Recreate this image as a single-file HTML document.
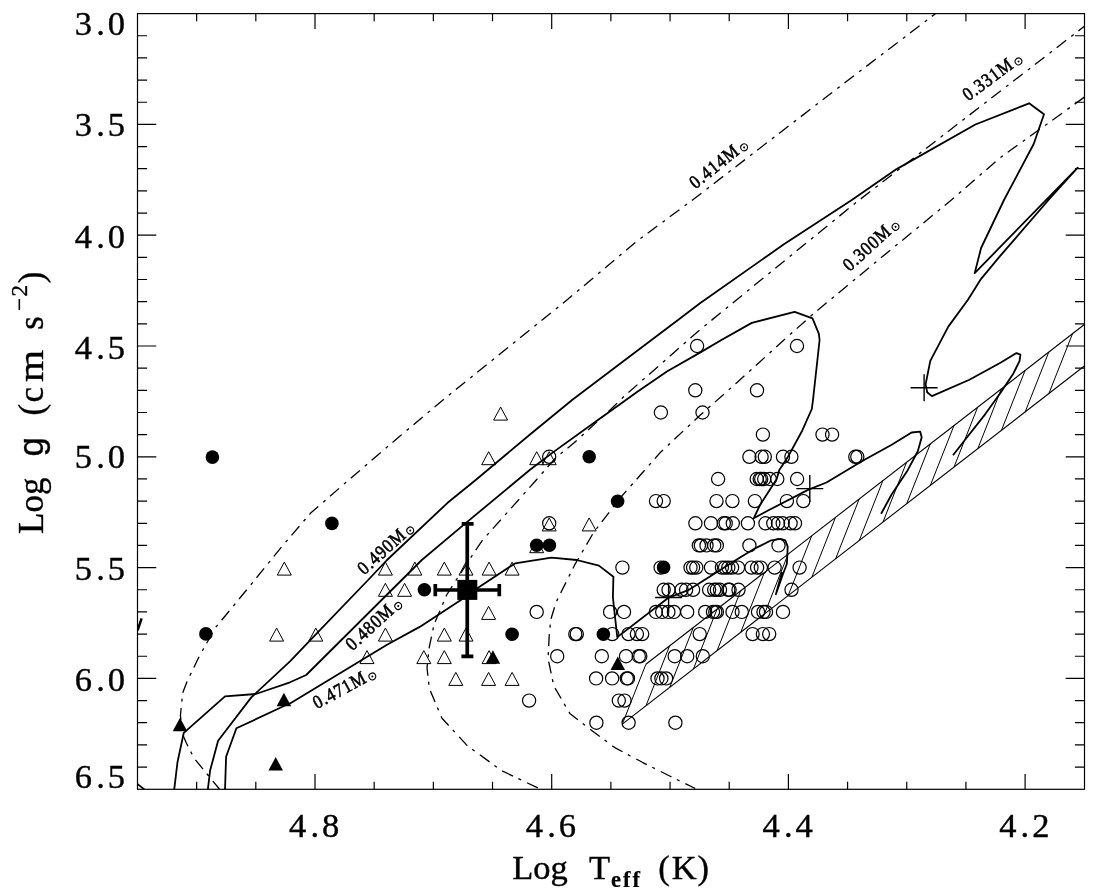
<!DOCTYPE html><html><head><meta charset="utf-8"><style>html,body{margin:0;padding:0;background:#fff;}svg{display:block;will-change:transform;}text{font-family:"Liberation Serif",serif;fill:#000;}</style></head><body>
<svg width="1094" height="896" viewBox="0 0 1094 896">
<rect width="1094" height="896" fill="#fff"/>
<defs><clipPath id="pc"><rect x="137.5" y="13.6" width="947.0" height="775.6999999999999"/></clipPath></defs>
<path d="M196.65,789.3V781.70M196.65,13.6V21.20M255.82,789.3V781.70M255.82,13.6V21.20M315.00,789.3V774.00M315.00,13.6V28.90M374.17,789.3V781.70M374.17,13.6V21.20M433.35,789.3V781.70M433.35,13.6V21.20M492.52,789.3V781.70M492.52,13.6V21.20M551.70,789.3V774.00M551.70,13.6V28.90M610.88,789.3V781.70M610.88,13.6V21.20M670.05,789.3V781.70M670.05,13.6V21.20M729.22,789.3V781.70M729.22,13.6V21.20M788.40,789.3V774.00M788.40,13.6V28.90M847.58,789.3V781.70M847.58,13.6V21.20M906.75,789.3V781.70M906.75,13.6V21.20M965.92,789.3V781.70M965.92,13.6V21.20M1025.10,789.3V774.00M1025.10,13.6V28.90M137.5,35.76H147.10M1084.5,35.76H1074.90M137.5,57.92H147.10M1084.5,57.92H1074.90M137.5,80.08H147.10M1084.5,80.08H1074.90M137.5,102.24H147.10M1084.5,102.24H1074.90M137.5,124.40H156.30M1084.5,124.40H1065.70M137.5,146.56H147.10M1084.5,146.56H1074.90M137.5,168.72H147.10M1084.5,168.72H1074.90M137.5,190.88H147.10M1084.5,190.88H1074.90M137.5,213.04H147.10M1084.5,213.04H1074.90M137.5,235.20H156.30M1084.5,235.20H1065.70M137.5,257.36H147.10M1084.5,257.36H1074.90M137.5,279.52H147.10M1084.5,279.52H1074.90M137.5,301.68H147.10M1084.5,301.68H1074.90M137.5,323.84H147.10M1084.5,323.84H1074.90M137.5,346.00H156.30M1084.5,346.00H1065.70M137.5,368.16H147.10M1084.5,368.16H1074.90M137.5,390.32H147.10M1084.5,390.32H1074.90M137.5,412.48H147.10M1084.5,412.48H1074.90M137.5,434.64H147.10M1084.5,434.64H1074.90M137.5,456.80H156.30M1084.5,456.80H1065.70M137.5,478.96H147.10M1084.5,478.96H1074.90M137.5,501.12H147.10M1084.5,501.12H1074.90M137.5,523.28H147.10M1084.5,523.28H1074.90M137.5,545.44H147.10M1084.5,545.44H1074.90M137.5,567.60H156.30M1084.5,567.60H1065.70M137.5,589.76H147.10M1084.5,589.76H1074.90M137.5,611.92H147.10M1084.5,611.92H1074.90M137.5,634.08H147.10M1084.5,634.08H1074.90M137.5,656.24H147.10M1084.5,656.24H1074.90M137.5,678.40H156.30M1084.5,678.40H1065.70M137.5,700.56H147.10M1084.5,700.56H1074.90M137.5,722.72H147.10M1084.5,722.72H1074.90M137.5,744.88H147.10M1084.5,744.88H1074.90M137.5,767.04H147.10M1084.5,767.04H1074.90" fill="none" stroke="#000" stroke-width="1.2"/>
<rect x="137.5" y="13.6" width="947.0" height="775.6999999999999" fill="none" stroke="#000" stroke-width="1.2"/>
<text x="74.8 96.2 107.8" y="35.2" font-size="34.5" stroke="#000" stroke-width="0.4">3.0</text>
<text x="74.8 96.2 107.8" y="136.3" font-size="34.5" stroke="#000" stroke-width="0.4">3.5</text>
<text x="74.8 96.2 107.8" y="248.0" font-size="34.5" stroke="#000" stroke-width="0.4">4.0</text>
<text x="74.8 96.2 107.8" y="359.0" font-size="34.5" stroke="#000" stroke-width="0.4">4.5</text>
<text x="74.8 96.2 107.8" y="468.4" font-size="34.5" stroke="#000" stroke-width="0.4">5.0</text>
<text x="74.8 96.2 107.8" y="579.6" font-size="34.5" stroke="#000" stroke-width="0.4">5.5</text>
<text x="74.8 96.2 107.8" y="691.2" font-size="34.5" stroke="#000" stroke-width="0.4">6.0</text>
<text x="74.8 96.2 107.8" y="788.0" font-size="34.5" stroke="#000" stroke-width="0.4">6.5</text>
<text x="289.1 310.5 322.1" y="836.8" font-size="34.5" stroke="#000" stroke-width="0.4">4.8</text>
<text x="525.8 547.2 558.8" y="836.8" font-size="34.5" stroke="#000" stroke-width="0.4">4.6</text>
<text x="762.5 783.9 795.5" y="836.8" font-size="34.5" stroke="#000" stroke-width="0.4">4.4</text>
<text x="999.2 1020.6 1032.2" y="836.8" font-size="34.5" stroke="#000" stroke-width="0.4">4.2</text>
<text y="878.5" font-size="34.5" stroke="#000" stroke-width="0.4"><tspan x="512.2">Log</tspan><tspan x="588.9">T</tspan></text>
<text x="611" y="887.2" font-size="22.5" font-weight="bold" letter-spacing="2" stroke="#000" stroke-width="0.2">eff</text>
<text y="878.5" font-size="34.5" stroke="#000" stroke-width="0.4"><tspan x="658.2">(</tspan><tspan x="671.75">K</tspan><tspan x="697.6">)</tspan></text>
<g transform="translate(42.9,533) rotate(-90)"><text x="-1.0" y="0" font-size="35" style='font-family:"Liberation Serif",serif' stroke="#000" stroke-width="0.35">Log</text><text x="76.6" y="0" font-size="35" style='font-family:"Liberation Sans",sans-serif' stroke="#000" stroke-width="0.35">g</text><text x="117.4" y="0" font-size="35" style='font-family:"Liberation Serif",serif' stroke="#000" stroke-width="0.35">(</text><text x="130.4" y="0" font-size="35" style='font-family:"Liberation Serif",serif' stroke="#000" stroke-width="0.35">c</text><text x="127.97" y="0" font-size="35" style='font-family:"Liberation Serif",serif' stroke="#000" stroke-width="0.35" transform="scale(1.18,1)">m</text><text x="203.2" y="0" font-size="35" style='font-family:"Liberation Serif",serif' stroke="#000" stroke-width="0.35">s</text><text x="222" y="-16.1" font-size="23" style='font-family:"Liberation Serif",serif' stroke="#000" stroke-width="0.35">−</text><text x="236.4" y="-16.1" font-size="23" style='font-family:"Liberation Serif",serif' stroke="#000" stroke-width="0.35">2</text><text x="249.7" y="0" font-size="35" style='font-family:"Liberation Serif",serif' stroke="#000" stroke-width="0.35">)</text></g>
<g clip-path="url(#pc)"><path d="M645.9,664.3 L1100.0,312.4" fill="none" stroke="#000" stroke-width="1.1" stroke-linejoin="round" stroke-linecap="butt"/><path d="M622.3,724.1 L1100.0,353.9" fill="none" stroke="#000" stroke-width="1.1" stroke-linejoin="round" stroke-linecap="butt"/><path d="M622.3,724.1l23.6,-59.8M646.0,705.7l23.6,-59.8M669.7,687.4l23.6,-59.8M693.4,669.0l23.6,-59.8M717.1,650.6l23.6,-59.8M740.8,632.2l23.6,-59.8M764.5,613.9l23.6,-59.8M788.2,595.5l23.6,-59.8M811.9,577.1l23.6,-59.8M835.6,558.8l23.6,-59.8M859.3,540.4l23.6,-59.8M883.0,522.0l23.6,-59.8M906.7,503.7l23.6,-59.8M930.4,485.3l23.6,-59.8M954.1,466.9l23.6,-59.8M977.8,448.6l23.6,-59.8M1001.5,430.2l23.6,-59.8M1025.2,411.8l23.6,-59.8M1048.9,393.5l23.6,-59.8" fill="none" stroke="#000" stroke-width="1.0"/><path d="M935.4,13.7 L850.0,78.8 L692.5,200.0 L637.0,241.1 L566.9,300.0 L443.0,400.0 L400.0,436.0 L347.2,481.3 L310.4,513.3 L281.0,547.6 L249.1,586.9 L214.7,628.6 L205.4,645.5 L199.2,656.3 L192.9,669.6 L187.6,680.0 L182.7,692.8 L180.4,715.7 L182.9,735.0 L186.2,742.7 L194.0,758.1 L219.4,789.0" fill="none" stroke="#000" stroke-width="1.3" stroke-linejoin="round" stroke-linecap="butt" stroke-dasharray="12 6 3 6.5" stroke-dashoffset="7.6"/><path d="M1084.4,26.3 L880.0,184.0 L856.3,202.3 L778.1,266.0 L700.0,329.7 L623.6,396.8 L611.3,408.8 L573.8,443.1 L555.3,458.1 L536.3,480.0 L482.7,540.0 L474.1,552.4 L446.6,595.0 L434.0,624.5 L429.3,647.1 L427.0,667.7 L429.3,688.3 L441.8,718.0 L467.0,745.4 L501.3,770.5 L540.1,789.0" fill="none" stroke="#000" stroke-width="1.3" stroke-linejoin="round" stroke-linecap="butt" stroke-dasharray="12 6 3 6.5" stroke-dashoffset="4.5"/><path d="M1084.4,97.1 L1000.0,157.9 L951.4,200.0 L880.0,258.6 L814.3,313.0 L783.9,340.0 L736.8,382.7 L700.6,414.8 L660.5,452.3 L620.3,497.8 L593.5,532.6 L574.8,564.7 L556.1,602.2 L550.7,619.9 L549.2,635.7 L548.1,658.6 L553.8,686.0 L569.8,713.4 L592.7,731.2 L614.8,747.6 L642.3,762.3 L669.7,776.0 L695.3,788.5" fill="none" stroke="#000" stroke-width="1.3" stroke-linejoin="round" stroke-linecap="butt" stroke-dasharray="12 6 3 6.5" stroke-dashoffset="0"/><path d="M207.8,790.0 L210.1,770.5 L218.1,740.8 L251.3,697.4 L290.0,661.3 L310.3,640.2 L368.1,580.0 L387.0,560.0 L447.6,502.8 L475.7,480.0 L530.0,434.5 L572.1,400.0 L620.0,363.8 L678.0,320.0 L700.0,303.2 L783.9,244.3 L851.8,200.0 L896.6,169.1 L975.4,124.5 L1029.1,103.3 L1044.0,114.3 L1033.7,144.0 L1004.0,200.0 L981.1,248.0 L974.7,273.1 L1000.0,247.2 L1077.7,167.7 L1048.5,200.0 L1000.0,256.2 L981.1,278.8 L967.8,300.0 L948.3,326.6 L930.3,360.9 L925.6,384.4 L927.2,392.2 L931.9,396.1 L969.4,379.7 L1000.9,362.5 L1016.5,353.1 L1020.4,354.7 L1019.6,360.9 L1013.4,373.4 L1000.9,392.2 L985.3,414.1 L964.9,440.0 L953.0,455.2" fill="none" stroke="#000" stroke-width="1.8" stroke-linejoin="round" stroke-linecap="butt"/><path d="M174.2,789.6 L177.5,762.1 L183.8,732.8 L225.0,696.3 L255.8,694.0 L290.0,682.3 L306.2,675.0 L421.8,560.0 L465.4,523.4 L530.0,469.7 L555.0,450.9 L600.0,418.5 L620.0,404.3 L637.0,392.0 L667.3,371.3 L700.0,352.6 L721.4,340.0 L751.8,322.9 L794.6,311.8 L812.5,318.4 L818.8,333.6 L819.6,340.0 L813.0,400.0 L811.8,409.0 L802.2,430.7 L787.5,457.6 L779.3,470.0 L776.6,479.3 L760.0,505.0 L753.7,518.3 L769.0,510.0 L808.5,489.6 L826.5,482.5 L857.3,464.0 L860.0,462.2 L891.3,445.0 L911.6,432.5 L920.2,431.7 L921.7,437.2 L917.8,451.3 L906.9,471.6 L891.3,495.0 L881.1,513.8" fill="none" stroke="#000" stroke-width="1.8" stroke-linejoin="round" stroke-linecap="butt"/><path d="M225.0,790.0 L226.1,756.8 L236.4,728.3 L287.8,704.3 L290.0,703.4 L387.0,644.8 L419.7,626.9 L462.4,599.1 L478.4,587.4 L515.0,563.4 L551.5,557.7 L576.7,560.0 L590.0,563.4 L598.9,565.6 L613.4,576.8 L612.9,596.9 L614.0,608.0 L617.3,637.1 L668.1,598.0 L688.2,590.2 L740.0,557.5 L755.6,548.1 L771.3,540.3 L780.6,538.8 L785.3,540.3 L787.7,546.6 L786.9,563.8 L782.2,576.3 L775.9,594.2 L782.0,572.0" fill="none" stroke="#000" stroke-width="1.8" stroke-linejoin="round" stroke-linecap="butt"/><path d="M141.6,618.3 L137.6,630.4" fill="none" stroke="#000" stroke-width="2.5" stroke-linejoin="round" stroke-linecap="butt"/><path d="M137.3,783.9 L144.7,789.6" fill="none" stroke="#000" stroke-width="1.8" stroke-linejoin="round" stroke-linecap="butt"/></g>
<path d="M910.6,387.8h27M924.1,374.3v27" stroke="#000" stroke-width="1.4" fill="none"/>
<path d="M796.3,488.6h27M809.8,475.1v27" stroke="#000" stroke-width="1.4" fill="none"/>
<path d="M655.1,597.5h27M668.6,584.0v27" stroke="#000" stroke-width="1.4" fill="none"/>
<g fill="none" stroke="#000" stroke-width="1.2"><circle cx="697.1" cy="346.0" r="6.6"/><circle cx="797.0" cy="346.0" r="6.6"/><circle cx="695.3" cy="390.3" r="6.6"/><circle cx="757.0" cy="390.3" r="6.6"/><circle cx="660.9" cy="412.5" r="6.6"/><circle cx="702.5" cy="412.5" r="6.6"/><circle cx="762.9" cy="434.6" r="6.6"/><circle cx="822.5" cy="434.6" r="6.6"/><circle cx="832.1" cy="434.6" r="6.6"/><circle cx="549.2" cy="456.8" r="6.6"/><circle cx="749.4" cy="456.8" r="6.6"/><circle cx="761.6" cy="456.8" r="6.6"/><circle cx="764.8" cy="456.8" r="6.6"/><circle cx="783.0" cy="456.8" r="6.6"/><circle cx="791.4" cy="456.8" r="6.6"/><circle cx="855.3" cy="456.8" r="6.6"/><circle cx="857.3" cy="456.8" r="6.6"/><circle cx="718.1" cy="479.0" r="6.6"/><circle cx="756.7" cy="479.0" r="6.6"/><circle cx="759.7" cy="479.0" r="6.6"/><circle cx="761.2" cy="479.0" r="6.6"/><circle cx="764.2" cy="479.0" r="6.6"/><circle cx="769.8" cy="479.0" r="6.6"/><circle cx="777.3" cy="479.0" r="6.6"/><circle cx="797.1" cy="479.0" r="6.6"/><circle cx="656.0" cy="501.1" r="6.6"/><circle cx="663.7" cy="501.1" r="6.6"/><circle cx="716.5" cy="501.1" r="6.6"/><circle cx="732.4" cy="501.1" r="6.6"/><circle cx="754.9" cy="501.1" r="6.6"/><circle cx="786.9" cy="501.1" r="6.6"/><circle cx="803.3" cy="501.1" r="6.6"/><circle cx="549.2" cy="523.3" r="6.6"/><circle cx="695.4" cy="523.3" r="6.6"/><circle cx="711.0" cy="523.3" r="6.6"/><circle cx="723.8" cy="523.3" r="6.6"/><circle cx="725.7" cy="523.3" r="6.6"/><circle cx="732.8" cy="523.3" r="6.6"/><circle cx="747.9" cy="523.3" r="6.6"/><circle cx="765.5" cy="523.3" r="6.6"/><circle cx="773.3" cy="523.3" r="6.6"/><circle cx="778.0" cy="523.3" r="6.6"/><circle cx="782.7" cy="523.3" r="6.6"/><circle cx="790.6" cy="523.3" r="6.6"/><circle cx="795.0" cy="523.3" r="6.6"/><circle cx="698.9" cy="545.4" r="6.6"/><circle cx="700.9" cy="545.4" r="6.6"/><circle cx="706.5" cy="545.4" r="6.6"/><circle cx="714.2" cy="545.4" r="6.6"/><circle cx="716.8" cy="545.4" r="6.6"/><circle cx="749.4" cy="545.4" r="6.6"/><circle cx="778.5" cy="545.4" r="6.6"/><circle cx="622.4" cy="567.6" r="6.6"/><circle cx="660.6" cy="567.6" r="6.6"/><circle cx="690.5" cy="567.6" r="6.6"/><circle cx="693.1" cy="567.6" r="6.6"/><circle cx="696.3" cy="567.6" r="6.6"/><circle cx="711.0" cy="567.6" r="6.6"/><circle cx="721.9" cy="567.6" r="6.6"/><circle cx="725.1" cy="567.6" r="6.6"/><circle cx="728.3" cy="567.6" r="6.6"/><circle cx="732.1" cy="567.6" r="6.6"/><circle cx="738.0" cy="567.6" r="6.6"/><circle cx="751.5" cy="567.6" r="6.6"/><circle cx="757.1" cy="567.6" r="6.6"/><circle cx="760.8" cy="567.6" r="6.6"/><circle cx="774.6" cy="567.6" r="6.6"/><circle cx="799.6" cy="567.6" r="6.6"/><circle cx="663.7" cy="589.8" r="6.6"/><circle cx="668.5" cy="589.8" r="6.6"/><circle cx="681.6" cy="589.8" r="6.6"/><circle cx="686.1" cy="589.8" r="6.6"/><circle cx="693.1" cy="589.8" r="6.6"/><circle cx="709.1" cy="589.8" r="6.6"/><circle cx="714.2" cy="589.8" r="6.6"/><circle cx="716.8" cy="589.8" r="6.6"/><circle cx="720.0" cy="589.8" r="6.6"/><circle cx="728.3" cy="589.8" r="6.6"/><circle cx="729.6" cy="589.8" r="6.6"/><circle cx="738.5" cy="589.8" r="6.6"/><circle cx="791.5" cy="589.8" r="6.6"/><circle cx="536.7" cy="611.9" r="6.6"/><circle cx="610.1" cy="611.9" r="6.6"/><circle cx="624.0" cy="611.9" r="6.6"/><circle cx="655.9" cy="611.9" r="6.6"/><circle cx="662.2" cy="611.9" r="6.6"/><circle cx="668.4" cy="611.9" r="6.6"/><circle cx="673.9" cy="611.9" r="6.6"/><circle cx="687.2" cy="611.9" r="6.6"/><circle cx="705.2" cy="611.9" r="6.6"/><circle cx="713.0" cy="611.9" r="6.6"/><circle cx="715.3" cy="611.9" r="6.6"/><circle cx="716.9" cy="611.9" r="6.6"/><circle cx="732.5" cy="611.9" r="6.6"/><circle cx="741.8" cy="611.9" r="6.6"/><circle cx="758.0" cy="611.9" r="6.6"/><circle cx="763.5" cy="611.9" r="6.6"/><circle cx="766.0" cy="611.9" r="6.6"/><circle cx="783.0" cy="611.9" r="6.6"/><circle cx="575.3" cy="634.1" r="6.6"/><circle cx="576.8" cy="634.1" r="6.6"/><circle cx="612.3" cy="634.1" r="6.6"/><circle cx="628.5" cy="634.1" r="6.6"/><circle cx="636.9" cy="634.1" r="6.6"/><circle cx="642.2" cy="634.1" r="6.6"/><circle cx="699.7" cy="634.1" r="6.6"/><circle cx="752.6" cy="634.1" r="6.6"/><circle cx="762.9" cy="634.1" r="6.6"/><circle cx="769.2" cy="634.1" r="6.6"/><circle cx="557.2" cy="656.2" r="6.6"/><circle cx="601.8" cy="656.2" r="6.6"/><circle cx="626.0" cy="656.2" r="6.6"/><circle cx="638.8" cy="656.2" r="6.6"/><circle cx="640.3" cy="656.2" r="6.6"/><circle cx="674.7" cy="656.2" r="6.6"/><circle cx="687.2" cy="656.2" r="6.6"/><circle cx="702.8" cy="656.2" r="6.6"/><circle cx="596.1" cy="678.4" r="6.6"/><circle cx="612.1" cy="678.4" r="6.6"/><circle cx="626.8" cy="678.4" r="6.6"/><circle cx="628.0" cy="678.4" r="6.6"/><circle cx="657.5" cy="678.4" r="6.6"/><circle cx="661.4" cy="678.4" r="6.6"/><circle cx="666.1" cy="678.4" r="6.6"/><circle cx="529.1" cy="700.6" r="6.6"/><circle cx="618.8" cy="700.6" r="6.6"/><circle cx="624.5" cy="700.6" r="6.6"/><circle cx="596.4" cy="722.7" r="6.6"/><circle cx="628.6" cy="722.7" r="6.6"/><circle cx="675.4" cy="722.7" r="6.6"/></g>
<g fill="none" stroke="#000" stroke-width="1.0" stroke-linejoin="miter"><path d="M500.6,407.1L507.6,420.1H493.6Z"/><path d="M488.7,451.7L495.7,464.7H481.7Z"/><path d="M536.7,451.7L543.7,464.7H529.7Z"/><path d="M549.2,451.7L556.2,464.7H542.2Z"/><path d="M549.2,517.9L556.2,530.9H542.2Z"/><path d="M589.2,517.9L596.2,530.9H582.2Z"/><path d="M536.7,539.7L543.7,552.7H529.7Z"/><path d="M284.3,562.1L291.3,575.1H277.3Z"/><path d="M385.4,562.1L392.4,575.1H378.4Z"/><path d="M414.9,562.1L421.9,575.1H407.9Z"/><path d="M444.3,562.1L451.3,575.1H437.3Z"/><path d="M466.0,562.1L473.0,575.1H459.0Z"/><path d="M489.1,562.1L496.1,575.1H482.1Z"/><path d="M512.1,562.1L519.1,575.1H505.1Z"/><path d="M385.4,583.3L392.4,596.3H378.4Z"/><path d="M404.6,583.3L411.6,596.3H397.6Z"/><path d="M488.6,606.4L495.6,619.4H481.6Z"/><path d="M276.6,628.1L283.6,641.1H269.6Z"/><path d="M315.8,628.1L322.8,641.1H308.8Z"/><path d="M385.4,628.1L392.4,641.1H378.4Z"/><path d="M444.3,628.1L451.3,641.1H437.3Z"/><path d="M466.0,628.1L473.0,641.1H459.0Z"/><path d="M367.0,650.6L374.0,663.6H360.0Z"/><path d="M423.8,650.6L430.8,663.6H416.8Z"/><path d="M444.3,650.6L451.3,663.6H437.3Z"/><path d="M489.1,650.6L496.1,663.6H482.1Z"/><path d="M455.8,672.4L462.8,685.4H448.8Z"/><path d="M488.6,672.4L495.6,685.4H481.6Z"/><path d="M512.1,672.4L519.1,685.4H505.1Z"/></g>
<g fill="#000"><path d="M180.0,717.8L187.3,731.3H172.7Z"/><path d="M283.9,692.7L291.2,706.2H276.6Z"/><path d="M275.7,757.1L283.0,770.6H268.4Z"/><path d="M492.9,650.2L500.2,663.7H485.6Z"/><path d="M617.8,656.6L625.1,670.1H610.5Z"/></g>
<g fill="#000"><circle cx="212.4" cy="457.1" r="6.8"/><circle cx="331.9" cy="523.4" r="6.8"/><circle cx="205.9" cy="633.9" r="6.8"/><circle cx="589.2" cy="456.7" r="6.8"/><circle cx="617.6" cy="501.3" r="6.8"/><circle cx="536.7" cy="545.3" r="6.8"/><circle cx="549.4" cy="545.3" r="6.8"/><circle cx="424.4" cy="589.8" r="6.8"/><circle cx="512.1" cy="634.2" r="6.8"/><circle cx="603.4" cy="634.2" r="6.8"/><circle cx="663.6" cy="567.4" r="6.8"/></g>
<path d="M467.25,523.8V656.4M461.7,523.8H473.6M461.4,656.4H473.4M435.3,590H499.3M435.3,584V596.2M499.3,584V596.2" stroke="#000" stroke-width="3.7" fill="none"/>
<rect x="457.3" y="579.9" width="20" height="20" fill="#000"/>
<g transform="translate(695.43,189.45) rotate(-38.8)"><text transform="scale(0.88,1)" x="0" y="0" font-size="19" stroke="#000" stroke-width="0.6" letter-spacing="1.1">0.414M</text><circle cx="64.33" cy="-2.3" r="3.4" fill="none" stroke="#000" stroke-width="1.1"/><circle cx="64.33" cy="-2.3" r="1.0" fill="#000"/></g>
<g transform="translate(968.18,101.55) rotate(-36.5)"><text transform="scale(0.88,1)" x="0" y="0" font-size="19" stroke="#000" stroke-width="0.6" letter-spacing="1.1">0.331M</text><circle cx="64.33" cy="-2.3" r="3.4" fill="none" stroke="#000" stroke-width="1.1"/><circle cx="64.33" cy="-2.3" r="1.0" fill="#000"/></g>
<g transform="translate(849.73,272.00) rotate(-42.5)"><text transform="scale(0.88,1)" x="0" y="0" font-size="19" stroke="#000" stroke-width="0.6" letter-spacing="1.1">0.300M</text><circle cx="64.33" cy="-2.3" r="3.4" fill="none" stroke="#000" stroke-width="1.1"/><circle cx="64.33" cy="-2.3" r="1.0" fill="#000"/></g>
<g transform="translate(364.32,575.59) rotate(-42.4)"><text transform="scale(0.88,1)" x="0" y="0" font-size="19" stroke="#000" stroke-width="0.6" letter-spacing="1.1">0.490M</text><circle cx="64.33" cy="-2.3" r="3.4" fill="none" stroke="#000" stroke-width="1.1"/><circle cx="64.33" cy="-2.3" r="1.0" fill="#000"/></g>
<g transform="translate(352.57,651.32) rotate(-42.7)"><text transform="scale(0.88,1)" x="0" y="0" font-size="19" stroke="#000" stroke-width="0.6" letter-spacing="1.1">0.480M</text><circle cx="64.33" cy="-2.3" r="3.4" fill="none" stroke="#000" stroke-width="1.1"/><circle cx="64.33" cy="-2.3" r="1.0" fill="#000"/></g>
<g transform="translate(317.06,709.34) rotate(-28.7)"><text transform="scale(0.88,1)" x="0" y="0" font-size="19" stroke="#000" stroke-width="0.6" letter-spacing="1.1">0.471M</text><circle cx="64.33" cy="-2.3" r="3.4" fill="none" stroke="#000" stroke-width="1.1"/><circle cx="64.33" cy="-2.3" r="1.0" fill="#000"/></g>
</svg></body></html>
